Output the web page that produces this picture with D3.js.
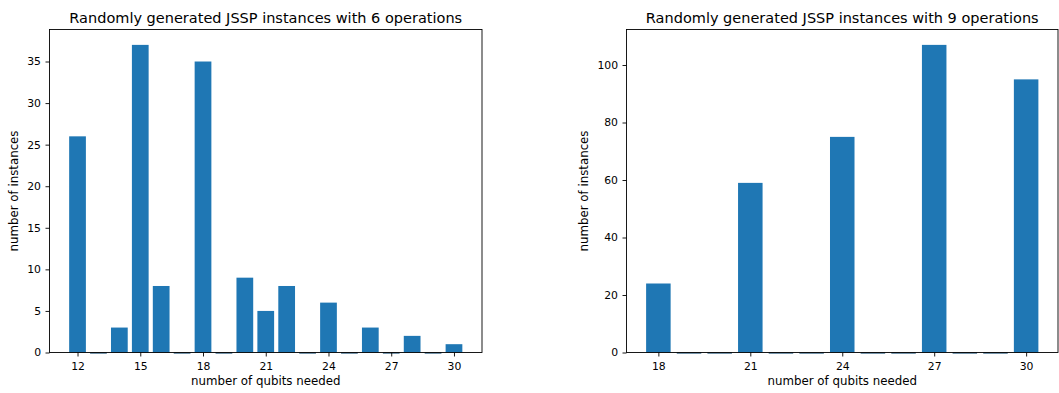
<!DOCTYPE html>
<html>
<head>
<meta charset="utf-8">
<script src="https://cdn.jsdelivr.net/npm/d3@7"></script>
<style>
  body { margin: 0; background: #fff; }
  text { font-family: "DejaVu Sans", sans-serif; fill: #000; }
</style>
</head>
<body>
<div id="chart"></div>
<script>
const width = 1059;
const height = 393;

// left panel: 6 operations
const qubits6 = [12, 13, 14, 15, 16, 17, 18, 19, 20, 21, 22, 23, 24, 25, 26, 27, 28, 29, 30];
const counts6 = [26, 0, 3, 37, 8, 0, 35, 0, 9, 5, 8, 0, 6, 0, 3, 0, 2, 0, 1];
const xTicks6 = [12, 15, 18, 21, 24, 27, 30];
const yTicks6 = [0, 5, 10, 15, 20, 25, 30, 35];

// right panel: 9 operations
const qubits9 = [18, 19, 20, 21, 22, 23, 24, 25, 26, 27, 28, 29, 30];
const counts9 = [24, 0, 0, 59, 0, 0, 75, 0, 0, 107, 0, 0, 95];
const xTicks9 = [18, 21, 24, 27, 30];
const yTicks9 = [0, 20, 40, 60, 80, 100];

const titles = [
    "Randomly generated JSSP instances with 6 operations",
    "Randomly generated JSSP instances with 9 operations"
];

const BAR_COLOR = "#1f77b4";
const TICK_FONT = 10.8;
const LABEL_FONT = 11.8;

const svg = d3.select("#chart")
    .append("svg")
    .attr("width", width)
    .attr("height", height);

function drawPanel(box, xs, ys, xTicks, yTicks, title, ylabelX) {
    const g = svg.append("g");

    // matplotlib style: bar width 0.8, 5% margins
    const lo = d3.min(xs) - 0.4, hi = d3.max(xs) + 0.4;
    const pad = (hi - lo) * 0.05;
    const x = d3.scaleLinear()
        .domain([lo - pad, hi + pad])
        .range([box.left, box.right]);
    const y = d3.scaleLinear()
        .domain([0, d3.max(ys) * 1.05])
        .range([box.bottom, box.top]);

    const data = xs.map((d, i) => ({q: d, n: ys[i]}));

    g.selectAll("rect.bar")
        .data(data.filter(d => d.n > 0))
        .join("rect")
        .attr("class", "bar")
        .attr("x", d => x(d.q - 0.4))
        .attr("width", d => x(d.q + 0.4) - x(d.q - 0.4))
        .attr("y", d => y(d.n))
        .attr("height", d => y(0) - y(d.n))
        .attr("fill", BAR_COLOR);

    // zero-height bars show up as thin dark lines on the baseline
    g.selectAll("line.zero")
        .data(data.filter(d => d.n === 0))
        .join("line")
        .attr("class", "zero")
        .attr("x1", d => x(d.q - 0.4))
        .attr("x2", d => x(d.q + 0.4))
        .attr("y1", y(0) + 0.5)
        .attr("y2", y(0) + 0.5)
        .attr("stroke", "#1a4d72")
        .attr("stroke-width", 1.2);

    // frame
    g.append("rect")
        .attr("x", box.left)
        .attr("y", box.top)
        .attr("width", box.right - box.left)
        .attr("height", box.bottom - box.top)
        .attr("fill", "none")
        .attr("stroke", "#000")
        .attr("stroke-width", 0.9);

    const xAxis = g.append("g")
        .attr("transform", `translate(0,${box.bottom})`)
        .call(d3.axisBottom(x).tickValues(xTicks).tickSize(4).tickPadding(6).tickFormat(d3.format("d")));
    const yAxis = g.append("g")
        .attr("transform", `translate(${box.left},0)`)
        .call(d3.axisLeft(y).tickValues(yTicks).tickSize(4).tickPadding(4.5).tickFormat(d3.format("d")));

    [xAxis, yAxis].forEach(a => {
        a.select(".domain").remove();
        a.selectAll("line").attr("stroke", "#000").attr("stroke-width", 0.9);
        a.selectAll("text")
            .attr("fill", "#000")
            .style("font-family", "DejaVu Sans")
            .style("font-size", TICK_FONT + "px");
    });

    g.append("text")
        .attr("x", (box.left + box.right) / 2)
        .attr("y", 23)
        .attr("text-anchor", "middle")
        .style("font-size", "14.5px")
        .text(title);

    g.append("text")
        .attr("x", (box.left + box.right) / 2)
        .attr("y", 385)
        .attr("text-anchor", "middle")
        .style("font-size", LABEL_FONT + "px")
        .text("number of qubits needed");

    g.append("text")
        .attr("transform", `translate(${ylabelX},${(box.top + box.bottom) / 2}) rotate(-90)`)
        .attr("text-anchor", "middle")
        .attr("dy", "0.35em")
        .style("font-size", LABEL_FONT + "px")
        .text("number of instances");
}

drawPanel({left: 49.5, right: 482, top: 29.5, bottom: 352.5},
    qubits6, counts6, xTicks6, yTicks6, titles[0], 14);
drawPanel({left: 626.5, right: 1058, top: 29.5, bottom: 352.5},
    qubits9, counts9, xTicks9, yTicks9, titles[1], 584);
</script>
</body>
</html>
